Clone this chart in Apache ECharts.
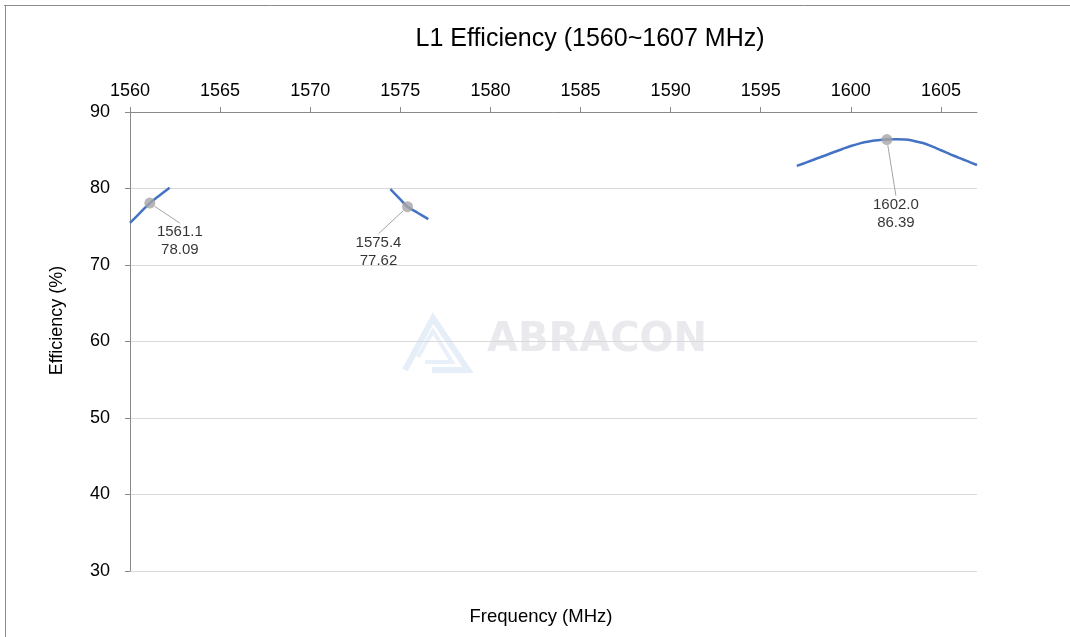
<!DOCTYPE html>
<html>
<head>
<meta charset="utf-8">
<title>L1 Efficiency</title>
<script src="https://cdn.jsdelivr.net/npm/echarts@6/dist/echarts.min.js"></script>
<style>
  html, body { margin: 0; padding: 0; background: #fff; }
  #chart { width: 1070px; height: 637px; }
</style>
</head>
<body>
<div id="chart"></div>
<script>
// 效率曲线数据
const seg1Freq = [1560, 1560.5, 1561.1, 1561.6, 1562.2]
const seg1Eff = [75.5, 76.68, 78.09, 79.01, 80.1]

const seg2Freq = [1574.45, 1575.0, 1575.4, 1576.0, 1576.55]
const seg2Eff = [79.91, 78.58, 77.62, 76.77, 76.0]

const seg3Freq = [1597, 1597.5, 1598, 1598.5, 1599, 1599.5, 1600, 1600.5, 1601, 1601.5,
  1602, 1602.5, 1603, 1603.5, 1604, 1604.5, 1605, 1605.5, 1606, 1606.5, 1607]
const seg3Eff = [82.95, 83.38, 83.82, 84.25, 84.7, 85.13, 85.55, 85.9, 86.15, 86.3,
  86.39, 86.43, 86.4, 86.22, 85.95, 85.5, 85.0, 84.5, 84.0, 83.55, 83.07]

// 标注点
const markerFreq = [1561.1, 1575.4, 1602.0]
const markerEff = [78.09, 77.62, 86.39]

const freqTicks = { min: 1560, max: 1607, interval: 5 }
const effTicks = { min: 30, max: 90, interval: 10 }

const zip = (xs, ys) => xs.map((x, i) => [x, ys[i]])

const FONT = 'Liberation Sans, Arial, sans-serif'
const LINE_COLOR = '#4472c4'
const MARK_COLOR = '#a5a5a5'

const chart = echarts.init(document.getElementById('chart'))

// 标签相对于点的偏移（像素）
const labelShift = [[30, 38], [-29, 45], [9, 74]]

const lineSeries = (data) => ({
  type: 'line',
  data,
  smooth: 0.4,
  showSymbol: false,
  lineStyle: { color: LINE_COLOR, width: 2.5 },
  z: 2,
})

chart.setOption({
  backgroundColor: 'transparent',
  animation: false,
  title: [
    {
      text: 'L1 Efficiency (1560~1607 MHz)',
      left: 585,
      top: 22,
      textAlign: 'center',
      textStyle: { fontFamily: FONT, fontSize: 25, fontWeight: 'normal', color: '#000' },
    },
    {
      text: 'Frequency (MHz)',
      left: 536,
      top: 602,
      textAlign: 'center',
      textStyle: { fontFamily: FONT, fontSize: 18.5, fontWeight: 'normal', color: '#000' },
    },
  ],
  grid: { left: 130, right: 93, top: 112, bottom: 66 },
  xAxis: {
    type: 'value',
    position: 'top',
    min: freqTicks.min,
    max: freqTicks.max,
    interval: freqTicks.interval,
    axisLine: { lineStyle: { color: '#898989', width: 1 } },
    axisTick: { show: true, length: 5, lineStyle: { color: '#898989' } },
    axisLabel: {
      fontFamily: FONT, fontSize: 18, color: '#000', margin: 12, showMaxLabel: false,
      formatter: (v) => String(v),
    },
    splitLine: { show: false },
  },
  yAxis: {
    type: 'value',
    min: effTicks.min,
    max: effTicks.max,
    interval: effTicks.interval,
    name: 'Efficiency (%)',
    nameLocation: 'middle',
    nameGap: 64,
    nameTextStyle: { fontFamily: FONT, fontSize: 18, color: '#000', padding: [0, 0, 0, 42] },
    axisLine: { show: true, lineStyle: { color: '#898989', width: 1 } },
    axisTick: { show: true, length: 5, lineStyle: { color: '#898989' } },
    axisLabel: { fontFamily: FONT, fontSize: 18, color: '#000', margin: 20 },
    splitLine: { lineStyle: { color: '#d9d9d9', width: 1 } },
  },
  graphic: [
    // 外框（仅上边和左边可见）
    { type: 'line', shape: { x1: 4, y1: 5.5, x2: 1070, y2: 5.5 }, style: { stroke: '#8c8c8c', lineWidth: 1 }, z: -20 },
    { type: 'line', shape: { x1: 5.5, y1: 5, x2: 5.5, y2: 637 }, style: { stroke: '#8c8c8c', lineWidth: 1 }, z: -20 },
    // 水印 logo
    {
      type: 'group',
      z: -10,
      silent: true,
      children: [
        {
          type: 'polyline',
          shape: { points: [[405, 370], [433, 318], [468, 370], [432, 370]] },
          style: { stroke: '#e6eef8', lineWidth: 6, fill: null, lineJoin: 'miter' },
        },
        {
          type: 'polyline',
          shape: { points: [[418, 357], [433, 331], [452, 362], [425, 362]] },
          style: { stroke: '#e9f0f9', lineWidth: 4, fill: null },
        },
        {
          type: 'text',
          left: 487,
          top: 321,
          style: {
            text: 'ABRACON',
            fontFamily: 'DejaVu Sans, sans-serif',
            fontWeight: 'bold',
            fontSize: 40,
            fill: '#eaeaee',
          },
        },
      ],
    },
  ],
  series: [
    lineSeries(zip(seg1Freq, seg1Eff)),
    lineSeries(zip(seg2Freq, seg2Eff)),
    lineSeries(zip(seg3Freq, seg3Eff)),
    {
      type: 'scatter',
      data: zip(markerFreq, markerEff),
      symbolSize: 11,
      itemStyle: { color: MARK_COLOR },
      z: 3,
      label: {
        show: true,
        position: 'inside',
        formatter: (p) => p.value[0].toFixed(1) + '\n' + p.value[1].toFixed(2),
        fontFamily: FONT,
        fontSize: 15,
        lineHeight: 18,
        color: '#000',
        align: 'center',
      },
      labelLayout: (p) => ({ dx: labelShift[p.dataIndex][0], dy: labelShift[p.dataIndex][1] }),
      labelLine: { show: true, lineStyle: { color: MARK_COLOR, width: 1 } },
    },
  ],
})
</script>
</body>
</html>
